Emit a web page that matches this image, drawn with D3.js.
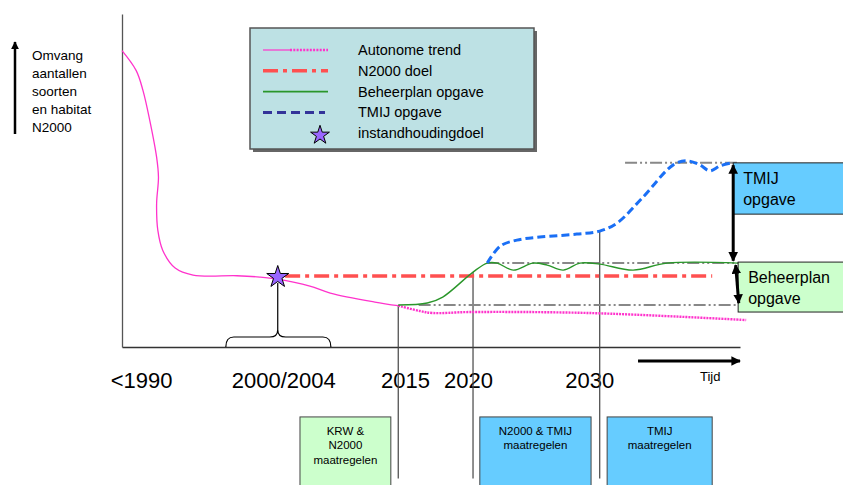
<!DOCTYPE html>
<html>
<head>
<meta charset="utf-8">
<script src="https://cdn.jsdelivr.net/npm/d3@7"></script>
<style>
  body { margin: 0; background: #fff; }
  text { font-family: "Liberation Sans", Arial, sans-serif; fill: #000; }
</style>
</head>
<body>
<div id="chart"></div>
<script>
// ---- data (abstract units: time 0..100, omvang 0..100) ----
var autonoomVoor = [[0, 89], [2.3, 83], [3.4, 77], [4.5, 68], [5.6, 57], [5.9, 51], [5.6, 43],
    [5.8, 35], [6.6, 29], [8.6, 23.7], [11.5, 21.6], [18.6, 21.4], [22.3, 21], [25.1, 20.4],
    [30.4, 18.3], [33.7, 16.2], [40.9, 13.5], [44.7, 12.4]];
var autonoomNa = [[44.7, 12.4], [48.2, 10.8], [50.3, 10.2], [56.3, 10.5], [75.7, 10.2], [101, 8.1]];
var beheerplan = [[44.7, 12.6], [49.4, 13.2], [51.9, 15.0], [56.8, 22.5], [59.1, 25.2], [60.7, 25.2],
    [63.3, 23.1], [66.5, 25.2], [68.8, 24.6], [71.4, 23.1], [74.1, 25.2], [77.3, 24.9],
    [82.7, 23.1], [88.2, 25.2], [99.7, 25.2]];
var tmij = [[59.1, 25.2], [61.2, 30.3], [63.9, 32.1], [67.6, 33.0], [73.6, 33.9], [77.3, 34.8],
    [80.1, 37.2], [84.3, 45.0], [89.2, 54.7], [91.4, 55.9], [93.5, 54.7], [95.1, 52.9],
    [96.8, 54.4], [98.7, 55.3]];
var n2000doel = [[26.4, 21.3], [95.5, 21.3]];
var instandhouding = [25.2, 21.0];
var hulplijnen = [[[81.4, 55.3], [99.5, 55.3]], [[59.1, 25.2], [100, 25.2]], [[48, 12.6], [99.5, 12.6]]];
var markeringen = [[44.7, 12.6], [56.8, 22.5], [77.3, 34.8]];   // vertical lines, top point
var tickPos = [3.1, 26.1, 45.8, 56, 75.6];
var tickLabels = ["<1990", "2000/2004", "2015", "2020", "2030"];
var maatregelen = [
    {x0: 28.8, x1: 43.5, lines: ["KRW &", "N2000", "maatregelen"], fill: "#ccffcc"},
    {x0: 57.9, x1: 75.9, lines: ["N2000 & TMIJ", "maatregelen"], fill: "#66ccff"},
    {x0: 78.5, x1: 95.5, lines: ["TMIJ", "maatregelen"], fill: "#66ccff"}
];
var yLabel = ["Omvang", "aantallen", "soorten", "en habitat", "N2000"];
var legendLabels = ["Autonome trend", "N2000 doel", "Beheerplan opgave", "TMIJ opgave", "instandhoudingdoel"];

var svg = d3.select("#chart").append("svg")
    .attr("width", 843)
    .attr("height", 485);

var x = d3.scaleLinear().domain([0, 100]).range([122, 740]);
var y = d3.scaleLinear().domain([0, 100]).range([347, 14]);

var defs = svg.append("defs");
defs.append("marker").attr("id", "head")
    .attr("viewBox", "0 0 10 10").attr("refX", 9).attr("refY", 5)
    .attr("markerWidth", 3.2).attr("markerHeight", 3.2)
    .attr("orient", "auto-start-reverse")
    .append("path").attr("d", "M0,0 L10,5 L0,10 z").attr("fill", "#000");

var line = d3.line().x(function(d) { return x(d[0]); }).y(function(d) { return y(d[1]); });
var smooth = d3.line().curve(d3.curveCatmullRom.alpha(0.5))
    .x(function(d) { return x(d[0]); }).y(function(d) { return y(d[1]); });

// axes
var xAxis = svg.append("g")
    .attr("transform", "translate(0," + y(0) + ")")
    .call(d3.axisBottom(x).tickValues(tickPos)
        .tickFormat(function(d, i) { return tickLabels[i]; })
        .tickSize(0).tickPadding(25));
xAxis.selectAll("text").attr("font-size", "22px")
    .attr("font-family", "Liberation Sans, Arial, sans-serif");
xAxis.select(".domain").attr("stroke", "#333").attr("stroke-width", 1.3);

var yAxis = svg.append("g")
    .attr("transform", "translate(" + x(0) + ",0)")
    .call(d3.axisLeft(y).tickValues([]).tickSizeOuter(0));
yAxis.select(".domain").attr("stroke", "#555").attr("stroke-width", 1.3);

// vertical time markers
svg.selectAll(".mark").data(markeringen).enter()
    .append("line")
    .attr("x1", function(d) { return x(d[0]); })
    .attr("x2", function(d) { return x(d[0]); })
    .attr("y1", function(d) { return y(d[1]); })
    .attr("y2", y(-39.5))
    .attr("stroke", "#444").attr("stroke-width", 1.2);

// gray reference lines
svg.selectAll(".hulp").data(hulplijnen).enter()
    .append("path")
    .attr("d", line)
    .attr("fill", "none")
    .attr("stroke", "#888").attr("stroke-width", 2)
    .attr("stroke-dasharray", "12,3,2,3,2,3");

// lines
svg.append("path").attr("d", line(n2000doel))
    .attr("fill", "none").attr("stroke", "#ff5050").attr("stroke-width", 3.5)
    .attr("stroke-dasharray", "15,5,4,5");

svg.append("path").attr("d", smooth(autonoomVoor))
    .attr("fill", "none").attr("stroke", "#ff33cc").attr("stroke-width", 1.3);
svg.append("path").attr("d", smooth(autonoomNa))
    .attr("fill", "none").attr("stroke", "#ff33cc").attr("stroke-width", 2.4)
    .attr("stroke-dasharray", "2,1");

svg.append("path").attr("d", smooth(beheerplan))
    .attr("fill", "none").attr("stroke", "#2a962a").attr("stroke-width", 1.4);

svg.append("path").attr("d", smooth(tmij))
    .attr("fill", "none").attr("stroke", "#1a6ff5").attr("stroke-width", 3)
    .attr("stroke-dasharray", "8,4");

// brace under the star
var bx0 = x(16.8), bx1 = x(33.8), bc = x(instandhouding[0]);
var by = y(3.0), byTip = y(5.2);
svg.append("path")
    .attr("d", "M" + bc + "," + (y(instandhouding[1]) + 6) + " L" + bc + "," + byTip +
        " Q" + bc + "," + by + " " + (bc + 8) + "," + by +
        " L" + (bx1 - 8) + "," + by + " Q" + bx1 + "," + by + " " + bx1 + "," + y(0) +
        " M" + bc + "," + byTip + " Q" + bc + "," + by + " " + (bc - 8) + "," + by +
        " L" + (bx0 + 8) + "," + by + " Q" + bx0 + "," + by + " " + bx0 + "," + y(0))
    .attr("fill", "none").attr("stroke", "#000").attr("stroke-width", 1.2);

var star = d3.symbol().type(d3.symbolStar).size(150);
svg.append("path").attr("d", star())
    .attr("transform", "translate(" + x(instandhouding[0]) + "," + y(instandhouding[1]) + ")")
    .attr("fill", "#9966ff").attr("stroke", "#000").attr("stroke-width", 1);

// right-hand boxes with double arrows
function opgaveBox(x0, yTop, yBot, fill, lines, tx) {
    svg.append("rect")
        .attr("x", x(x0)).attr("y", y(yTop))
        .attr("width", 860 - x(x0)).attr("height", y(yBot) - y(yTop))
        .attr("fill", fill).attr("stroke", "#222").attr("stroke-width", 1);
    lines.forEach(function(t, i) {
        svg.append("text").attr("x", x(x0) + tx).attr("y", y(yTop) + 21 + i * 21)
            .attr("font-size", "16px").text(t);
    });
}
opgaveBox(98.9, 55.3, 39.9, "#66ccff", ["TMIJ", "opgave"], 10);
opgaveBox(99.7, 25.5, 10.5, "#ccffcc", ["Beheerplan", "opgave"], 10);

svg.append("line")
    .attr("x1", x(98.9)).attr("x2", x(98.9))
    .attr("y1", y(54.6)).attr("y2", y(25.9))
    .attr("stroke", "#000").attr("stroke-width", 3)
    .attr("marker-start", "url(#head)").attr("marker-end", "url(#head)");
svg.append("line")
    .attr("x1", x(99.3)).attr("x2", x(99.8))
    .attr("y1", y(24.6)).attr("y2", y(13.2))
    .attr("stroke", "#000").attr("stroke-width", 3)
    .attr("marker-start", "url(#head)").attr("marker-end", "url(#head)");

// maatregelen boxes
maatregelen.forEach(function(m) {
    svg.append("rect")
        .attr("x", x(m.x0)).attr("y", y(-21))
        .attr("width", x(m.x1) - x(m.x0)).attr("height", 80)
        .attr("fill", m.fill).attr("stroke", "#444").attr("stroke-width", 1);
    m.lines.forEach(function(t, i) {
        svg.append("text")
            .attr("x", (x(m.x0) + x(m.x1)) / 2)
            .attr("y", y(-21) + 18 + i * 14.5)
            .attr("text-anchor", "middle")
            .attr("font-size", "11.5px")
            .text(t);
    });
});

// time arrow
svg.append("line")
    .attr("x1", x(83.5)).attr("x2", x(100))
    .attr("y1", 361).attr("y2", 361)
    .attr("stroke", "#000").attr("stroke-width", 3)
    .attr("marker-end", "url(#head)");
svg.append("text").attr("x", 700).attr("y", 381)
    .attr("font-size", "13px").text("Tijd");

// y label with arrow
svg.append("line")
    .attr("x1", 15).attr("x2", 15).attr("y1", 134).attr("y2", 42)
    .attr("stroke", "#000").attr("stroke-width", 2.5)
    .attr("marker-end", "url(#head)");
svg.selectAll(".ylab").data(yLabel).enter()
    .append("text")
    .attr("x", 32)
    .attr("y", function(d, i) { return 60 + i * 18; })
    .attr("font-size", "13.5px")
    .text(function(d) { return d; });

// legend
var lg = svg.append("g").attr("transform", "translate(250,28)");
lg.append("rect").attr("x", 3).attr("y", 3).attr("width", 284).attr("height", 121)
    .attr("fill", "#666");
lg.append("rect").attr("width", 284).attr("height", 121)
    .attr("fill", "#bde1e4").attr("stroke", "#555").attr("stroke-width", 1.5);

var rowY = function(i) { return 22 + i * 20.8; };
lg.append("line").attr("x1", 13).attr("x2", 40).attr("y1", rowY(0)).attr("y2", rowY(0))
    .attr("stroke", "#ff33cc").attr("stroke-width", 1.2);
lg.append("line").attr("x1", 40).attr("x2", 78).attr("y1", rowY(0)).attr("y2", rowY(0))
    .attr("stroke", "#ff33cc").attr("stroke-width", 2.5).attr("stroke-dasharray", "2,1.3");
lg.append("line").attr("x1", 13).attr("x2", 78).attr("y1", rowY(1)).attr("y2", rowY(1))
    .attr("stroke", "#ff5050").attr("stroke-width", 3.5).attr("stroke-dasharray", "15,5,4,5");
lg.append("line").attr("x1", 13).attr("x2", 78).attr("y1", rowY(2)).attr("y2", rowY(2))
    .attr("stroke", "#2a962a").attr("stroke-width", 1.6);
lg.append("line").attr("x1", 13).attr("x2", 75).attr("y1", rowY(3)).attr("y2", rowY(3))
    .attr("stroke", "#333399").attr("stroke-width", 3).attr("stroke-dasharray", "9,5");
lg.append("path").attr("d", d3.symbol().type(d3.symbolStar).size(110)())
    .attr("transform", "translate(70," + (rowY(4) + 2) + ")")
    .attr("fill", "#9966ff").attr("stroke", "#000").attr("stroke-width", 1);

lg.selectAll(".lt").data(legendLabels).enter()
    .append("text")
    .attr("x", 108)
    .attr("y", function(d, i) { return rowY(i) + 5; })
    .attr("font-size", "14.5px")
    .text(function(d) { return d; });
</script>
</body>
</html>
